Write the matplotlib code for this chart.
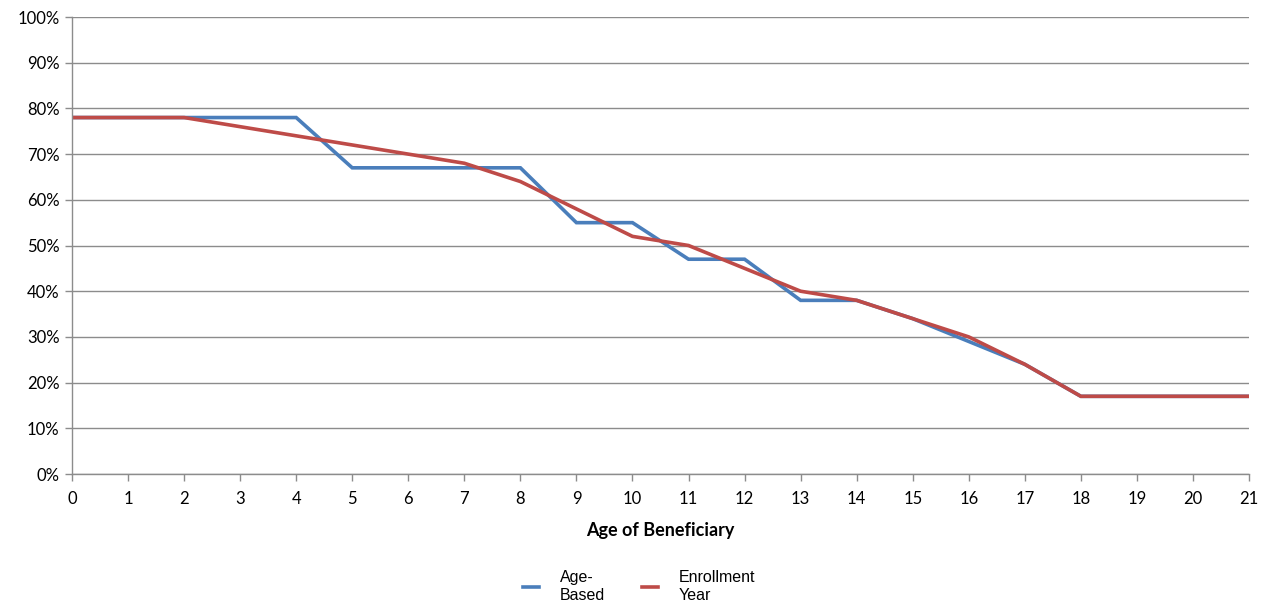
import matplotlib
matplotlib.use("Agg")
import matplotlib.pyplot as plt
from matplotlib.ticker import FuncFormatter

# Glide path: equity share by beneficiary age
ages = list(range(22))
age_based = [78, 78, 78, 78, 78, 67, 67, 67, 67, 55, 55, 47, 47, 38, 38, 34,
             29, 24, 17, 17, 17, 17]
enrollment_year = [78, 78, 78, 76, 74, 72, 70, 68, 64, 58, 52, 50, 45, 40, 38, 34,
                   30, 24, 17, 17, 17, 17]
series_labels = ["Age-\nBased", "Enrollment\nYear"]
series_colors = ["#4A7EBB", "#BE4B48"]

grid_color = "#8C8C8C"

fig = plt.figure(figsize=(12.61, 6.01), dpi=100)
ax = fig.add_axes([0.0571, 0.2113, 0.9334, 0.7604])

lines = []
for vals, lab, col in zip([age_based, enrollment_year], series_labels, series_colors):
    ln, = ax.plot(ages, vals, color=col, lw=2.6, label=lab, solid_joinstyle="miter")
    lines.append(ln)

ax.set_xlim(0, 21)
ax.set_ylim(0, 100)
ax.set_xticks(ages)
ax.set_yticks(range(0, 101, 10))
ax.yaxis.set_major_formatter(FuncFormatter(lambda v, p: f"{v:.0f}%"))

ax.grid(axis="y", color=grid_color, lw=1.0)
ax.set_axisbelow(True)
for side in ["top", "right"]:
    ax.spines[side].set_visible(False)
for side in ["left", "bottom"]:
    ax.spines[side].set_color(grid_color)
    ax.spines[side].set_linewidth(1.0)

ax.tick_params(axis="both", colors=grid_color, length=5, width=1.0,
               labelcolor="black", labelsize=12)
for t in ax.get_xticklabels() + ax.get_yticklabels():
    t.set_fontfamily("Lato")
ax.tick_params(axis="x", pad=7)
ax.tick_params(axis="y", pad=4)

ax.set_xlabel("Age of Beneficiary", fontfamily="Lato", fontweight="bold",
              fontsize=13, labelpad=11)

fig.legend(handles=lines, labels=series_labels, loc="center",
           bbox_to_anchor=(0.507, 0.024), ncol=2, frameon=False,
           prop={"family": "Liberation Sans", "size": 11.5},
           handlelength=1.0, handletextpad=1.3, columnspacing=2.3)

fig.savefig("out.png", dpi=100)
